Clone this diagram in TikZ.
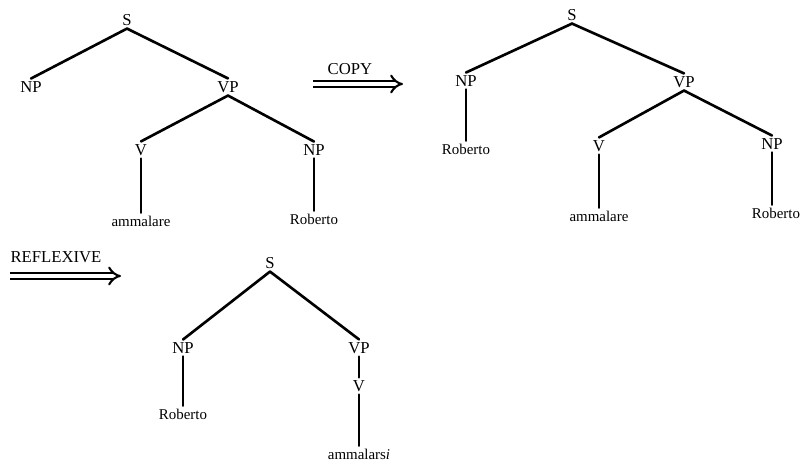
\documentclass[tikz,border=0pt]{standalone}
\usepackage{fontspec}
\setmainfont{Liberation Serif}
\usetikzlibrary{arrows.meta}
\tikzset{
  cat/.style={inner sep=1.5pt, font=\fontsize{9.5}{10}\selectfont},
  word/.style={inner sep=1.5pt, font=\fontsize{8.5}{9}\selectfont},
  branch/.style={line width=1.5pt, line cap=round},
  rulearrow/.style={double, line width=1.2pt, double distance=2.4pt, -{Implies[length=9pt]}},
  rulelabel/.style={inner sep=0pt, font=\fontsize{9.5}{11}\selectfont},
}
\begin{document}
\begin{tikzpicture}[x=0.02cm,y=-0.02cm]
\useasboundingbox (0,0) rectangle (800,465);
% ---------- tree 1 ----------
\node[cat] (s1) at (127,20) {S};
\node[cat] (np1) at (31,87) {NP};
\node[cat] (vp1) at (228,87) {VP};
\node[cat] (v1) at (141,150) {V};
\node[cat] (np1b) at (314,150) {NP};
\node[word] (w1a) at (141,221) {ammalare};
\node[word] (w1b) at (314,219) {Roberto};
\draw[branch] (s1.south) -- (np1.north);
\draw[branch] (s1.south) -- (vp1.north);
\draw[branch] (vp1.south) -- (v1.north);
\draw[branch] (vp1.south) -- (np1b.north);
\draw[branch] (v1.south) -- (w1a.north);
\draw[branch] (np1b.south) -- (w1b.north);
% ---------- COPY arrow ----------
\coordinate (c1) at (313,84);
\coordinate (c2) at (403,84);
\draw[rulearrow] (c1) -- (c2);
\node[rulelabel] (copy) at (350,69) {COPY};
% ---------- tree 2 ----------
\node[cat] (s2) at (572,15) {S};
\node[cat] (np2) at (466,81) {NP};
\node[cat] (vp2) at (684,82) {VP};
\node[word] (w2r) at (466,149) {Roberto};
\node[cat] (v2) at (599,146) {V};
\node[cat] (np2b) at (772,144) {NP};
\node[word] (w2a) at (599,216) {ammalare};
\node[word] (w2b) at (776,213) {Roberto};
\draw[branch] (s2.south) -- (np2.north);
\draw[branch] (s2.south) -- (vp2.north);
\draw[branch] (np2.south) -- (w2r.north);
\draw[branch] (vp2.south) -- (v2.north);
\draw[branch] (vp2.south) -- (np2b.north);
\draw[branch] (v2.south) -- (w2a.north);
\draw[branch] (np2b.south) -- (np2b.south |- w2b.north);
% ---------- REFLEXIVE arrow ----------
\coordinate (r1) at (10,276);
\coordinate (r2) at (121,276);
\draw[rulearrow] (r1) -- (r2);
\node[rulelabel] (refl) at (56,257) {REFLEXIVE};
% ---------- tree 3 ----------
\node[cat] (s3) at (270,263) {S};
\node[cat] (np3) at (183,348) {NP};
\node[cat] (vp3) at (359,348) {VP};
\node[word] (w3r) at (183,414) {Roberto};
\node[cat] (v3) at (359,386) {V};
\node[word] (w3a) at (359,454) {ammalars\textit{i}};
\draw[branch] (s3.south) -- (np3.north);
\draw[branch] (s3.south) -- (vp3.north);
\draw[branch] (np3.south) -- (w3r.north);
\draw[branch] (vp3.south) -- (v3.north);
\draw[branch] (v3.south) -- (w3a.north);
\end{tikzpicture}
\end{document}
